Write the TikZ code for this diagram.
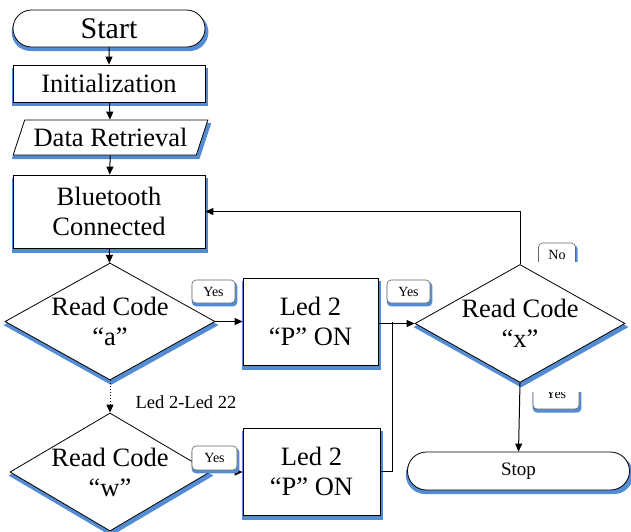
\documentclass[tikz,border=0pt]{standalone}
\usepackage{fontspec}
\setmainfont{Liberation Serif}
\usetikzlibrary{shapes.geometric,shapes.misc,shadows,arrows.meta}
\definecolor{shblue}{RGB}{84,140,212}
\begin{document}
\begin{tikzpicture}[x=1pt,y=-1pt,
  sh/.style={drop shadow={shadow xshift=1pt,shadow yshift=-3.5pt,shadow scale=1.025,fill=shblue,opacity=1}},
  shs/.style={drop shadow={shadow xshift=1pt,shadow yshift=-2.5pt,shadow scale=1.06,fill=shblue,opacity=1}},
  box/.style={draw,line width=0.8pt,fill=white,sh,inner sep=0pt,align=center,font=\fontsize{26.5}{30}\selectfont},
  term/.style={box,rounded rectangle},
  iobox/.style={box,trapezium,trapezium left angle=61,trapezium right angle=119,trapezium stretches=true},
  dia/.style={box,diamond,inner sep=0pt},
  dtxt/.style={align=center,font=\fontsize{26.5}{30}\selectfont,inner sep=0pt},
  yesbox/.style={draw=black!60,line width=0.6pt,fill=white,rounded corners=4pt,shs,minimum width=43pt,minimum height=23pt,inner sep=0pt,font=\fontsize{14}{14}\selectfont},
  arr/.style={line width=1pt,-{Triangle[length=8pt,width=7pt]}},
  ln/.style={line width=1pt}]
\useasboundingbox (0,0) rectangle (631,531);
\clip (0,0) rectangle (631,531);
% labels partly hidden behind the x diamond
\begin{scope}
\clip (525,230) rectangle (590,261);
\node[yesbox,minimum width=37pt] (no) at (557,254.5) {No};
\end{scope}
\begin{scope}
\clip (525,392) rectangle (590,420);
\node[yesbox,minimum width=46pt,minimum height=30pt] (yx) at (556,394) {Yes};
\end{scope}
% main nodes
\node[term,minimum width=192pt,minimum height=37pt,font=\fontsize{30}{30}\selectfont] (start) at (109,28.5) {Start};
\node[box,minimum width=192pt,minimum height=37pt] (init) at (109,83.5) {Initialization};
\node[iobox,minimum width=195pt,minimum height=35pt] (dr) at (110.5,137.5) {Data Retrieval};
\node[box,minimum width=192pt,minimum height=73pt] (bt) at (109,211.5) {Bluetooth\\Connected};
\node[dia,minimum width=210pt,minimum height=117pt,label={[dtxt]center:Read Code\\“a”}] (a) at (110,321.5) {};
\node[box,minimum width=135pt,minimum height=87pt] (l1) at (310.5,321.5) {Led 2\\“P” ON};
\node[dia,minimum width=210pt,minimum height=118pt,label={[dtxt]center:Read Code\\“x”}] (x) at (520,323.5) {};
\node[dia,minimum width=200pt,minimum height=118pt,label={[dtxt]center:Read Code\\“w”}] (w) at (110,472) {};
\node[box,minimum width=137pt,minimum height=87pt] (l2) at (311.5,471.5) {Led 2\\“P” ON};
\node[term,minimum width=222pt,minimum height=38pt,font=\fontsize{19}{19}\selectfont] (stop) at (518.5,471) {Stop};
\node[font=\fontsize{18.5}{18.5}\selectfont,inner sep=0pt] (ledl) at (186,402) {Led 2-Led 22};
\coordinate (j) at (392,322);
% connectors
\draw[arr] (start) -- (init);
\draw[arr] (init) -- (dr);
\draw[arr] (dr) -- (bt);
\draw[arr] (bt) -- (a);
\draw[arr] (a.east) -- (l1.west |- a.east);
\draw[arr] (l1.east |- x.west) -- (x.west);
\draw[ln] (l2.east) -| (j);
\draw[arr] (x.north) |- (bt.east);
\draw[arr] (x.south) -- (stop.north);
\draw[arr,dotted] (a.south) -- (w.north);
\draw[arr] (w.east) -- (l2.west |- w.east);
% yes labels on top
\node[yesbox] (y1) at (213.5,291.5) {Yes};
\node[yesbox] (y2) at (408.5,291.5) {Yes};
\node[yesbox,minimum width=45pt,minimum height=24pt] (y4) at (214.5,458) {Yes};
\end{tikzpicture}
\end{document}
